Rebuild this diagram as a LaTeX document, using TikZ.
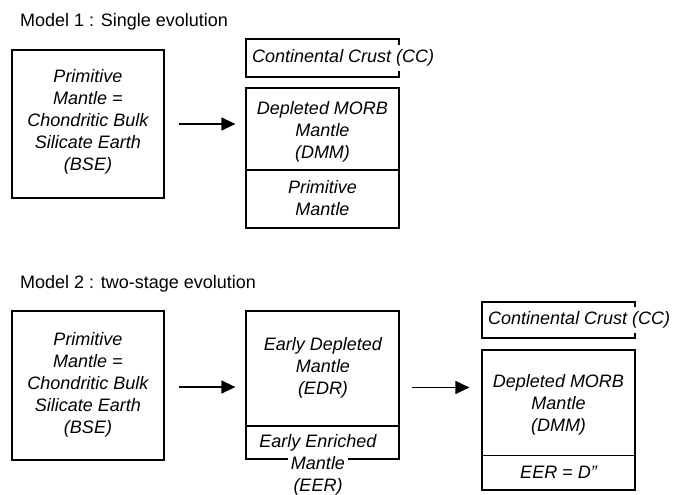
\documentclass[tikz,border=0pt]{standalone}
\usepackage{fontspec}
\setmainfont{Liberation Sans}
\usetikzlibrary{arrows.meta}
\begin{document}
\begin{tikzpicture}[x=1pt,y=-1pt,
  box/.style={draw=black, line width=1.2pt, minimum width=153pt, inner sep=0pt},
  txt/.style={font=\fontsize{18}{22}\selectfont\itshape, align=center, inner sep=0pt},
  masked/.style={txt, fill=white, inner xsep=1.5pt, inner ysep=4.5pt},
  ttl/.style={font=\fontsize{18}{22}\selectfont, inner sep=0pt, anchor=base west},
  divider/.style={line width=1.2pt},
  arr/.style={line width=1.2pt, -{Triangle[length=14pt,width=13pt]}}]
\useasboundingbox (0,0) rectangle (675,495);

% ---------------- Model 1 ----------------
\node[ttl] (t1) at (20,27) {Model 1 : Single evolution};

\node[box, minimum width=152pt, minimum height=148pt] (bse1) at (88,124) {};
\node[txt] (bse1t) at (88,122.3) {Primitive\\Mantle =\\Chondritic Bulk\\Silicate Earth\\(BSE)};

\node[box, minimum height=38pt] (cc1) at (322.5,58) {};
\node[masked, anchor=west] (cc1t) at (250.5,58) {Continental Crust (CC)};

\node[box, minimum height=140pt] (dmm1) at (322.5,158) {};
\coordinate (d1l) at (246,170);
\draw[divider] (d1l) -- (d1l -| dmm1.east);
\node[txt] (dmm1t) at (322.5,131.8) {Depleted MORB\\Mantle\\(DMM)};
\node[txt] (pm1t) at (322.5,198) {Primitive\\Mantle};

\draw[arr, shorten <=14pt, shorten >=10pt] (bse1.east) -- (bse1.east -| dmm1.west);

% ---------------- Model 2 ----------------
\node[ttl] (t2) at (20,288) {Model 2 : two-stage evolution};

\node[box, minimum width=152pt, minimum height=149pt] (bse2) at (88,385.5) {};
\node[txt] (bse2t) at (88,385.3) {Primitive\\Mantle =\\Chondritic Bulk\\Silicate Earth\\(BSE)};

\node[box, minimum height=148pt] (edr) at (322.5,385) {};
\coordinate (e2l) at (246,426);
\draw[divider] (e2l) -- (e2l -| edr.east);
\node[txt] (edrt) at (323,368.3) {Early Depleted\\Mantle\\(EDR)};
\node[txt, anchor=base] (eer1) at (318,447.5) {Early Enriched};
\node[txt, anchor=base, fill=white, inner xsep=2.5pt, inner ysep=1pt] (eer2) at (318,469.5) {Mantle};
\node[txt, anchor=base] (eer3) at (318,491.5) {(EER)};

\node[box, minimum height=36pt] (cc2) at (558.5,320) {};
\node[masked, anchor=west] (cc2t) at (486.5,320) {Continental Crust (CC)};

\node[box, minimum height=140pt] (dmm2) at (558.5,420) {};
\coordinate (d2l) at (482,455.5);
\draw[divider] (d2l) -- (d2l -| dmm2.east);
\node[txt] (dmm2t) at (558.5,405.3) {Depleted MORB\\Mantle\\(DMM)};
\node[txt] (eerd) at (558.5,472) {EER = D”};

\coordinate (a2s) at ([yshift=-1.5pt]bse2.east);
\draw[arr, shorten <=14pt, shorten >=10pt] (a2s) -- (a2s -| edr.west);
\coordinate (a3s) at ([yshift=-2.5pt]edr.east);
\draw[arr, shorten <=12pt, shorten >=12pt] (a3s) -- (a3s -| dmm2.west);
\end{tikzpicture}
\end{document}
